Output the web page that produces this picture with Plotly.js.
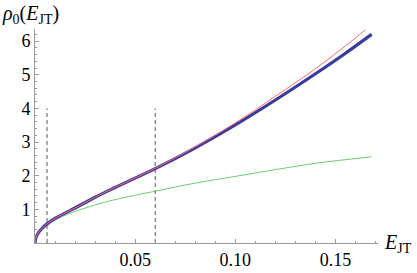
<!DOCTYPE html>
<html>
<head>
<meta charset="utf-8">
<script src="https://cdn.plot.ly/plotly-3.0.1.min.js"></script>
<style>
html,body{margin:0;padding:0;background:#fff;}
#chart{width:417px;height:273px;}
#chart g.xtick text, #chart g.ytick text{font-family:"Liberation Serif", serif !important; font-size:18px !important; fill:#000 !important;}
#chart g.annotation text{font-family:"Liberation Serif", serif !important;}
</style>
</head>
<body>
<div id="chart"></div>
<script>
// Energy values (x) and densities (y)
const xBlue  = [0, 0.0005, 0.001, 0.002, 0.0035, 0.005, 0.0075, 0.01, 0.015, 0.02, 0.03, 0.04, 0.06, 0.08, 0.10, 0.12, 0.14, 0.155, 0.168];
const yBlue  = [0, 0.16, 0.23, 0.33, 0.43, 0.52, 0.63, 0.73, 0.89, 1.04, 1.36, 1.65, 2.21, 2.83, 3.51, 4.25, 5.03, 5.64, 6.20];
const xRed   = [0, 0.0005, 0.001, 0.002, 0.0035, 0.005, 0.0075, 0.01, 0.015, 0.02, 0.03, 0.04, 0.06, 0.08, 0.10, 0.12, 0.14, 0.155, 0.165];
const yRed   = [0, 0.16, 0.23, 0.33, 0.43, 0.52, 0.63, 0.73, 0.89, 1.04, 1.36, 1.65, 2.22, 2.86, 3.57, 4.36, 5.18, 5.86, 6.34];
const xGreen = [0, 0.0005, 0.001, 0.002, 0.0035, 0.005, 0.0075, 0.01, 0.015, 0.02, 0.03, 0.04, 0.06, 0.08, 0.10, 0.12, 0.14, 0.168];
const yGreen = [0, 0.15, 0.22, 0.32, 0.42, 0.50, 0.60, 0.68, 0.82, 0.94, 1.13, 1.29, 1.54, 1.78, 1.98, 2.18, 2.37, 2.56];
const dashX = [0.006, 0.06];
const dashTop = 4;
const xTickVals = [0.05, 0.10, 0.15];
const xTickText = ["0.05", "0.10", "0.15"];
const yTickVals = [1, 2, 3, 4, 5, 6];
const yTickText = ["1", "2", "3", "4", "5", "6"];

const serif = 'Liberation Serif';
const xRange = [0, 0.1712];
const yRange = [0, 6.36];
const traces = [];
dashX.forEach(function(d){
  traces.push({x:[d,d], y:[0,dashTop], mode:'lines', line:{color:'#555', width:1, dash:'4px,3px'}});
});
traces.push({x:xGreen, y:yGreen, mode:'lines', line:{color:'#6ccc6c', width:1, shape:'spline', smoothing:0.9}});
traces.push({x:xBlue, y:yBlue, mode:'lines', line:{color:'#3a3aa0', width:3.2, shape:'spline', smoothing:0.9}});
traces.push({x:xRed, y:yRed, mode:'lines', line:{color:'#ff6a6a', width:1, shape:'spline', smoothing:0.9}});
// empty trace so the minor-tick overlay axes are drawn
traces.push({x:[], y:[], xaxis:'x2', yaxis:'y2', mode:'lines'});

const tickFont = {family:serif, size:18, color:'#000'};
const layout = {
  width:417, height:273,
  margin:{l:35, r:39, t:29, b:30},
  showlegend:false,
  hovermode:false,
  xaxis:{range:xRange, showgrid:false, zeroline:false, showline:true, linecolor:'#999', linewidth:1,
    tickvals:xTickVals, ticktext:xTickText, ticks:'inside', ticklen:4, tickcolor:'#999', tickfont:tickFont},
  yaxis:{range:yRange, showgrid:false, zeroline:false, showline:true, linecolor:'#999', linewidth:1,
    tickvals:yTickVals, ticktext:yTickText, ticks:'inside', ticklen:4, tickcolor:'#999', tickfont:tickFont},
  xaxis2:{range:xRange, overlaying:'x', side:'bottom', showgrid:false, zeroline:false, showline:false,
    tick0:0, dtick:0.01, ticks:'inside', ticklen:2, tickcolor:'#999', showticklabels:false},
  yaxis2:{range:yRange, overlaying:'y', side:'left', showgrid:false, zeroline:false, showline:false,
    tick0:0, dtick:0.2, ticks:'inside', ticklen:2, tickcolor:'#999', showticklabels:false},
  annotations:[
    {text:'<i>ρ</i><sub>0</sub>(<i>E</i><sub>JT</sub>)', xref:'paper', yref:'paper', x:-35/343, y:1+29/214, xanchor:'left', yanchor:'top', showarrow:false,
      font:{family:serif, size:20, color:'#000'}},
    {text:'<i>E</i><sub>JT</sub>', xref:'paper', yref:'paper', x:1.012, y:0, xanchor:'left', yanchor:'middle', showarrow:false,
      font:{family:serif, size:20, color:'#000'}}
  ]
};
Plotly.newPlot('chart', traces, layout, {displayModeBar:false});
</script>
</body>
</html>
